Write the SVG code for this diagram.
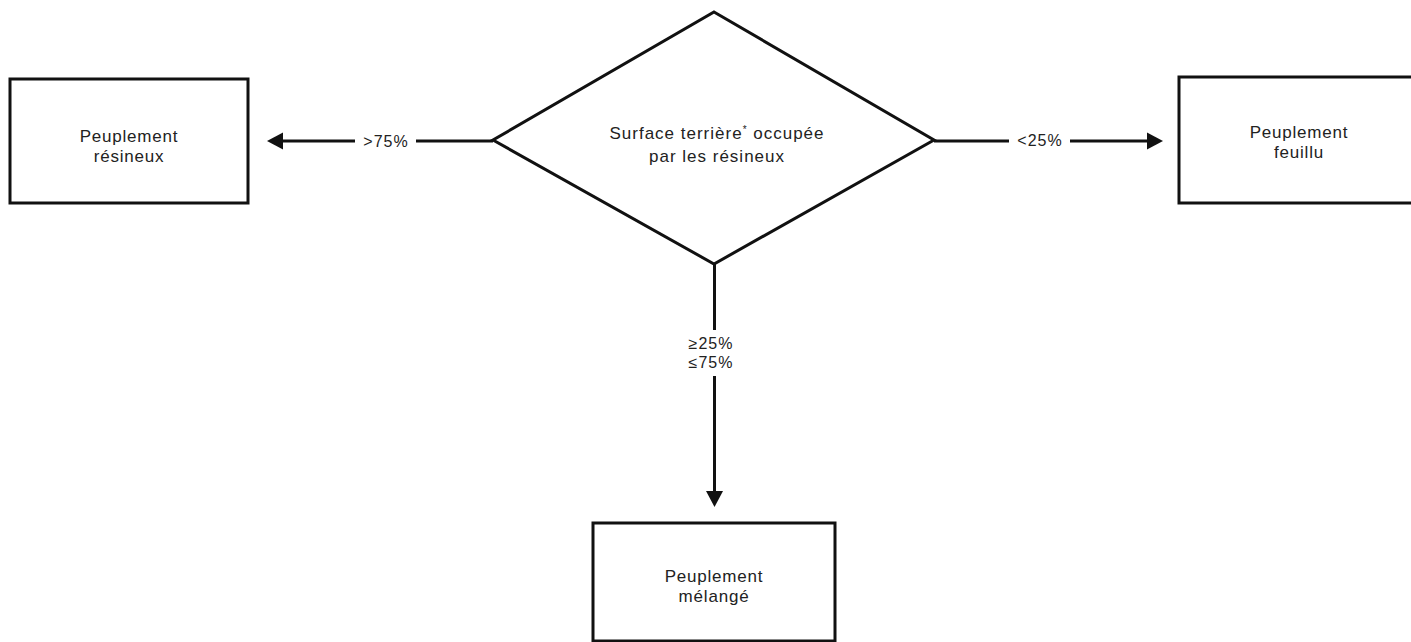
<svg xmlns="http://www.w3.org/2000/svg" width="1411" height="642" viewBox="0 0 1411 642">
<style>
.shape{fill:#fff;stroke:#111;stroke-width:3}
.conn{stroke:#111;stroke-width:3;fill:none}
.head{fill:#111;stroke:none}
.t{font-family:"Liberation Sans",Arial,sans-serif;font-size:17px;fill:#222;text-anchor:middle;letter-spacing:0.8px}
.lbl{font-family:"Liberation Sans",Arial,sans-serif;font-size:16px;fill:#222;text-anchor:middle;letter-spacing:1px}
</style>
<rect width="1411" height="642" fill="#fff"/>
<g id="connectors">
<line class="conn" x1="280" y1="141" x2="355" y2="141"/>
<line class="conn" x1="416" y1="141" x2="493" y2="141"/>
<polygon class="head" points="267,141 283,132.5 283,149.5"/>
<text class="lbl" x="386" y="147">&gt;75%</text>
<line class="conn" x1="934" y1="141" x2="1009" y2="141"/>
<line class="conn" x1="1070" y1="141" x2="1150" y2="141"/>
<polygon class="head" points="1163,141 1147,132.5 1147,149.5"/>
<text class="lbl" x="1040" y="146">&lt;25%</text>
<line class="conn" x1="714.5" y1="264" x2="714.5" y2="330"/>
<line class="conn" x1="714.5" y1="376" x2="714.5" y2="494"/>
<polygon class="head" points="714.5,507 706,491 723,491"/>
<text class="lbl" x="711" y="349">≥25%</text>
<text class="lbl" x="711" y="368">≤75%</text>
</g>
<g id="decision">
<polygon class="shape" points="714,12 934,140 714,264 493,140"/>
<text class="t" x="717" y="139" style="letter-spacing:1px">Surface terrière<tspan font-size="10" dy="-6">*</tspan><tspan dy="6"> occupée</tspan></text>
<text class="t" x="717" y="162" style="letter-spacing:1px">par les résineux</text>
</g>
<g id="resineux">
<rect class="shape" x="10" y="79" width="238" height="124"/>
<text class="t" x="129" y="142">Peuplement</text>
<text class="t" x="129" y="162">résineux</text>
</g>
<g id="feuillu">
<rect class="shape" x="1179" y="77" width="245" height="126"/>
<text class="t" x="1299" y="138">Peuplement</text>
<text class="t" x="1299" y="158">feuillu</text>
</g>
<g id="melange">
<rect class="shape" x="593" y="523" width="242" height="118"/>
<text class="t" x="714" y="582">Peuplement</text>
<text class="t" x="714" y="602">mélangé</text>
</g>
</svg>
